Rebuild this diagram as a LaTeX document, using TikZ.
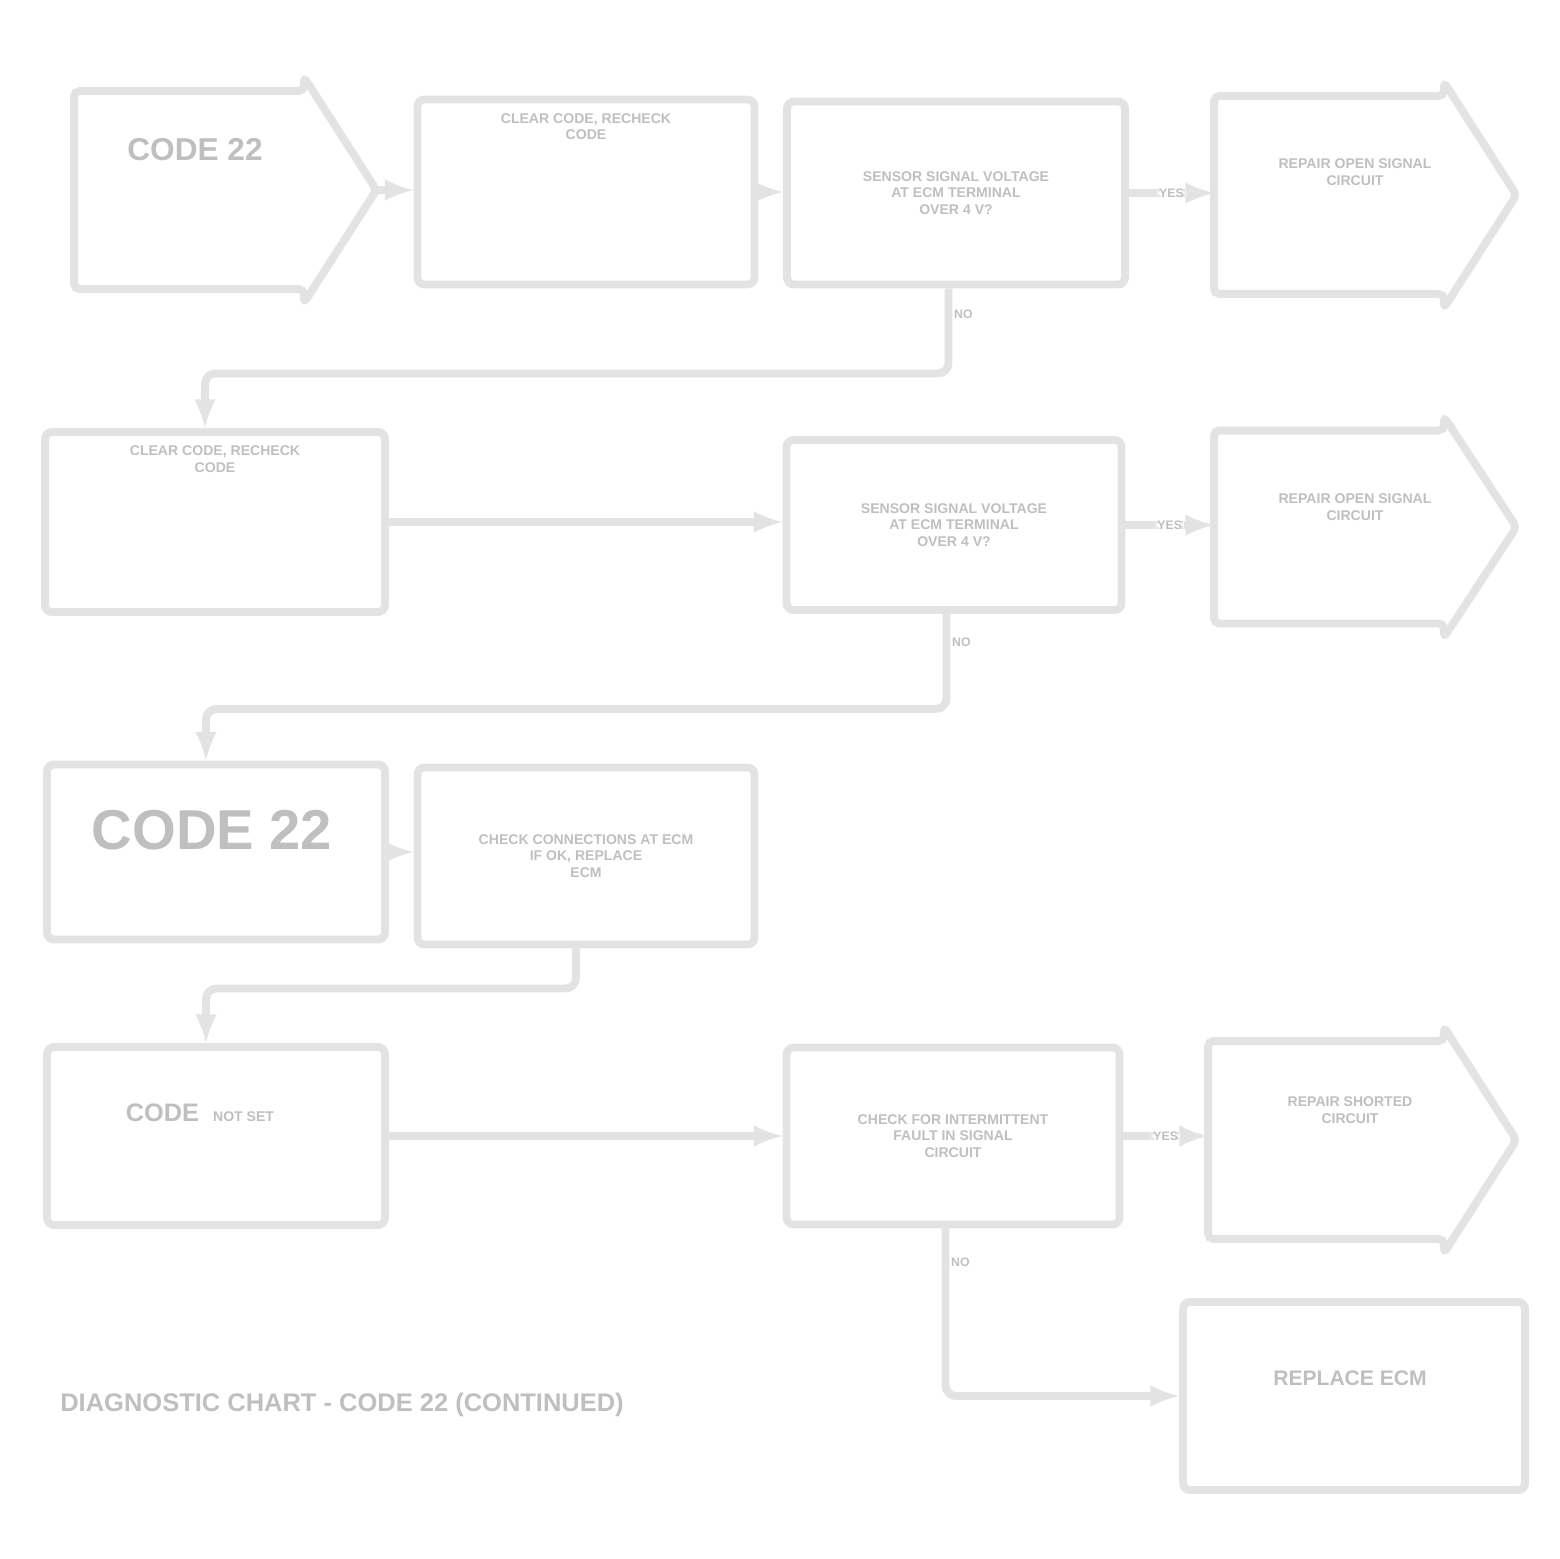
\documentclass[tikz,border=0pt]{standalone}
\usepackage{fontspec}
\setmainfont{Liberation Sans}
\usetikzlibrary{positioning,arrows}

\begin{document}
\begin{tikzpicture}[
		box/.style={
			draw=gray!22,
			line width=4.5pt,
			rounded corners=4pt,
			inner sep=0pt,
			align=center,
			font=\footnotesize\bfseries,
			text=gray!50
		},
		sig/.style={
			box,
			draw=none
		},
		note/.style={
			align=center,
			inner sep=0pt,
			font=\footnotesize\bfseries,
			text=gray!50
		},
		link/.style={
			draw=gray!22,
			line width=4.5pt,
			rounded corners=6pt
		},
		tag/.style={
			font=\scriptsize\bfseries,
			text=gray!50,
			inner sep=1pt
		},
		>=latex
		]
		\useasboundingbox (0,0) rectangle (31.2,-31.18);

		% row 1
		\node[sig, minimum width=4.44cm, minimum height=3.8cm] (a) at (3.78,-3.80) {};
		\node[box, minimum width=6.74cm, minimum height=3.7cm] (b) at (11.72,-3.84) {};
		\node[box, minimum width=6.76cm, minimum height=3.66cm] (c) at (19.12,-3.86) {SENSOR SIGNAL VOLTAGE\\AT ECM TERMINAL\\OVER 4 V?};
		\node[sig, minimum width=4.44cm, minimum height=3.8cm] (d) at (26.58,-3.90) {};
		% row 2
		\node[box, minimum width=6.8cm, minimum height=3.6cm] (e) at (4.30,-10.44) {};
		\node[box, minimum width=6.7cm, minimum height=3.4cm] (f) at (19.08,-10.50) {SENSOR SIGNAL VOLTAGE\\AT ECM TERMINAL\\OVER 4 V?};
		\node[sig, minimum width=4.44cm, minimum height=3.7cm] (g) at (26.58,-10.54) {};
		% row 3
		\node[box, minimum width=6.76cm, minimum height=3.5cm] (h) at (4.32,-17.04) {};
		\node[box, minimum width=6.74cm, minimum height=3.54cm] (i) at (11.72,-17.12) {CHECK CONNECTIONS AT ECM\\IF OK, REPLACE\\ECM};
		% row 4
		\node[box, minimum width=6.76cm, minimum height=3.56cm] (j) at (4.32,-22.72) {};
		\node[box, minimum width=6.66cm, minimum height=3.54cm] (k) at (19.06,-22.72) {CHECK FOR INTERMITTENT\\FAULT IN SIGNAL\\CIRCUIT};
		\node[sig, minimum width=4.56cm, minimum height=3.8cm] (l) at (26.52,-22.80) {};
		\node[box, minimum width=6.84cm, minimum height=3.76cm] (m) at (27.08,-27.92) {};

		% texts
		\node[note, font=\fontsize{18}{20}\selectfont\bfseries] (a-txt) at (3.9,-3.0) {CODE 22};
		\node[note, below=0.35cm of b.north] (b-txt) {CLEAR CODE, RECHECK\\CODE};
		\node[note] (d-txt) at (27.1,-3.45) {REPAIR OPEN SIGNAL\\CIRCUIT};
		\node[note, below=0.35cm of e.north] (e-txt) {CLEAR CODE, RECHECK\\CODE};
		\node[note] (g-txt) at (27.1,-10.15) {REPAIR OPEN SIGNAL\\CIRCUIT};
		\node[note, font=\fontsize{32}{34}\selectfont\bfseries] (h-txt) at (4.24,-16.6) {CODE 22};
		\node[note] (j-txt) at (4.0,-22.25) {{\Large CODE}\quad NOT SET};
		\node[note] (l-txt) at (27.0,-22.2) {REPAIR SHORTED\\CIRCUIT};
		\node[note, font=\large\bfseries] (m-txt) at (27.0,-27.56) {REPLACE ECM};
		\node[note, anchor=west, font=\fontsize{14.5}{16}\selectfont\bfseries] (cap) at (1.2,-28.1) {DIAGNOSTIC CHART - CODE 22 (CONTINUED)};

		% arrow boxes
		\foreach \n in {a,d,g,l}
			{\coordinate (\n-tip) at ([xshift=1.45cm]\n.east);
			\draw[link, rounded corners=3pt] (\n.south west) |- (\n.north east) -- ++(0,0.28) -- (\n-tip) -- ([yshift=-0.28cm]\n.south east) -- (\n.south east) -- cycle;
			}

		% connectors
		\draw[link,->] (a-tip) -- (a-tip -| b.west);
		\foreach \s/\t in {b/c,e/f,h/i,j/k}
			\draw[link,->] (\s.east) -- (\s.east -| \t.west);
		\foreach \s/\t in {c/d,f/g,k/l}
			\draw[link,->] (\s.east) -- node[tag,fill=white] {YES} (\s.east -| \t.west);
		\draw[link,->] ([xshift=-0.15cm]c.south) -- node[tag,right,pos=0.3] {NO} ++(0,-1.7) -| ([xshift=-0.2cm]e.north);
		\draw[link,->] ([xshift=-0.15cm]f.south) -- node[tag,right,pos=0.3] {NO} ++(0,-1.9) -| ([xshift=-0.2cm]h.north);
		\draw[link,->] ([xshift=-0.2cm]i.south) -- ++(0,-0.8) -| ([xshift=-0.2cm]j.north);
		\draw[link,->] ([xshift=-0.15cm]k.south) |- node[tag,right,pos=0.1] {NO} (m.west);
	\end{tikzpicture}
\end{document}
